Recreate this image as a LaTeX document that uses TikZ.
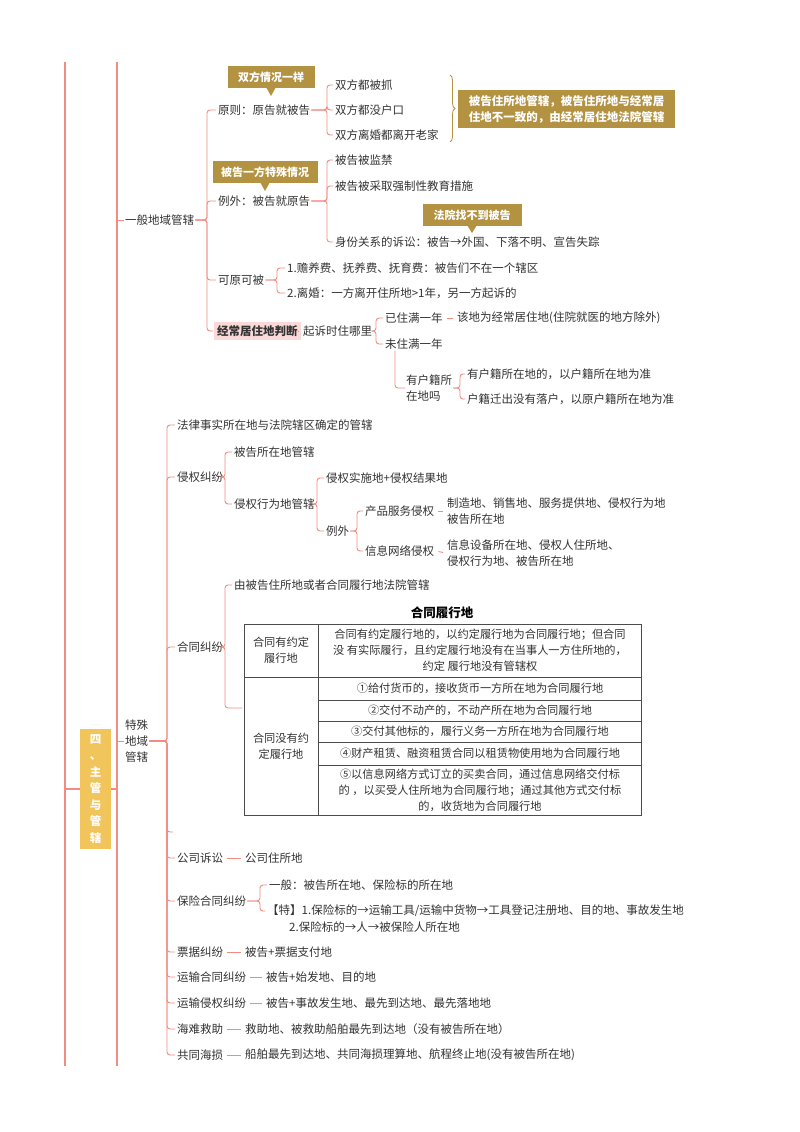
\documentclass[tikz,border=0pt]{standalone}
\usepackage{fontspec}
\setmainfont{Noto Sans CJK SC}
\usetikzlibrary{decorations.pathreplacing}
\definecolor{ln}{HTML}{F28C82}
\definecolor{gold}{HTML}{B39342}
\definecolor{pinkbg}{HTML}{FBD9D9}
\definecolor{rootc}{HTML}{F2C55C}
\definecolor{txt}{HTML}{333333}
\newcommand\br[3]{\draw[conn,rounded corners=3pt,shorten >=1pt] (#1.east) -- (#1.east -| #3) |- (#2.west);}
\newcommand\dsh[2]{\draw[conn,shorten <=3pt,shorten >=3pt] (#1.east) -- (#2.west);}
\begin{document}
\begin{tikzpicture}[x=1pt,y=-1pt,
  every node/.style={font=\fontsize{11.5}{15}\selectfont,text=txt},
  t/.style={anchor=west,inner sep=1pt},
  conn/.style={draw=ln,line width=0.9pt},
  call/.style={fill=gold,text=white,font=\fontsize{11}{14}\selectfont\bfseries,inner sep=0pt,minimum height=22pt},
  cell/.style={font=\fontsize{11.2}{16}\selectfont,align=center,inner sep=0pt}]
\useasboundingbox (0,0) rectangle (800,1132);
\fill[white] (0,0) rectangle (800,1132);
% coordinates of vertical lines
\foreach \n/\v in {x117/117,x167/167,x207/207,x327/327,x277/277,x376/376,x460/460,x225/225,x317/317,x357/357,x260/260}{\coordinate (\n) at (\v,0);}
% thick left lines
\draw[ln,line width=1.6pt] (65,62) -- (65,1066);
\draw[ln,line width=1.6pt] (117,62) -- (117,1066);
\draw[ln,line width=1.6pt] (65,789) -- (80,789);
\draw[ln,line width=1.2pt] (111,789) -- (117,789);
\node[fill=rootc,minimum width=31pt,minimum height=120pt,inner sep=0pt,align=center,text=white,font=\fontsize{11.5}{16.5}\selectfont\bfseries] (root) at (95.5,789) {四\\、\\主\\管\\与\\管\\辖};
% level 1
\node[t] (yb) at (124,220) {一般地域管辖};
\node[t,align=center,font=\fontsize{11.5}{16}\selectfont] (ts) at (124,741) {特殊\\地域\\管辖};
\draw[conn] (x117 |- yb.west) -- (yb.west);
\draw[conn] (x117 |- ts.west) -- (ts.west);
% general
\node[t] (yz) at (217,110) {原则：原告就被告};
\node[t] (lw) at (217,201) {例外：被告就原告};
\node[t] (ky) at (217,280) {可原可被};
\node[t,fill=pinkbg,inner sep=3pt,font=\fontsize{11.5}{15}\selectfont\bfseries] (jc) at (214,331) {经常居住地判断};
\foreach \c in {yz,lw,ky,jc}{\br{yb}{\c}{x207}}
\node[call,minimum width=87pt] (cb1) at (271,77) {双方情况一样};
\fill[gold] (266,87) -- (276,87) -- (271,96) -- cycle;
\node[call,minimum width=105pt] (cb2) at (265,172) {被告一方特殊情况};
\fill[gold] (260,182) -- (270,182) -- (265,191) -- cycle;
\node[call,minimum width=99pt] (cb3) at (472,215) {法院找不到被告};
\fill[gold] (467,225) -- (477,225) -- (472,233) -- cycle;
\node[t] (a1) at (334,85) {双方都被抓};
\node[t] (a2) at (334,110) {双方都没户口};
\node[t] (a3) at (334,135) {双方离婚都离开老家};
\foreach \c in {a1,a2,a3}{\br{yz}{\c}{x327}}
\draw[gold,line width=0.8pt,decorate,decoration={brace,amplitude=5pt}] (450,75) -- (450,142);
\node[fill=gold,text=white,minimum width=217pt,minimum height=38pt,inner sep=0pt,align=center,font=\fontsize{11.5}{16}\selectfont\bfseries] (gbox) at (566.5,109) {被告住所地管辖，被告住所地与经常居\\住地不一致的，由经常居住地法院管辖};
\node[t] (b1) at (334,160) {被告被监禁};
\node[t] (b2) at (334,186) {被告被采取强制性教育措施};
\node[t] (b3) at (334,242) {身份关系的诉讼：被告→外国、下落不明、宣告失踪};
\foreach \c in {b1,b2,b3}{\br{lw}{\c}{x327}}
\node[t] (c1) at (286,268) {1.赡养费、抚养费、抚育费：被告们不在一个辖区};
\node[t] (c2) at (286,293) {2.离婚：一方离开住所地>1年，另一方起诉的};
\foreach \c in {c1,c2}{\br{ky}{\c}{x277}}
\node[t] (qs) at (302,331) {起诉时住哪里};
\dsh{jc}{qs}
\node[t] (d1) at (384,318) {已住满一年};
\node[t] (d2) at (384,344) {未住满一年};
\foreach \c in {d1,d2}{\br{qs}{\c}{x376}}
\node[t] (e1) at (456,318) {该地为经常居住地(住院就医的地方除外)};
\dsh{d1}{e1}
\node[t,align=left,font=\fontsize{11.5}{16}\selectfont] (hj) at (405,388) {有户籍所\\在地吗};
\draw[conn,rounded corners=3pt] ([xshift=11pt]d2.south west) |- (hj.west);
\node[t] (f1) at (466,374) {有户籍所在地的，以户籍所在地为准};
\node[t] (f2) at (466,399) {户籍迁出没有落户，以原户籍所在地为准};
\foreach \c in {f1,f2}{\br{hj}{\c}{x460}}
% special
\node[t] (g1) at (176,425) {法律事实所在地与法院辖区确定的管辖};
\node[t] (g2) at (176,477) {侵权纠纷};
\node[t] (g3) at (176,647) {合同纠纷};
\coordinate (gb) at (173,832);
\node[t] (g4) at (176,858) {公司诉讼};
\node[t] (g5) at (176,901) {保险合同纠纷};
\node[t] (g6) at (176,952) {票据纠纷};
\node[t] (g7) at (176,977) {运输合同纠纷};
\node[t] (g8) at (176,1003) {运输侵权纠纷};
\node[t] (g9) at (176,1029) {海难救助};
\node[t] (g10) at (176,1055) {共同海损};
\foreach \c in {g1,g2,g3,g4,g5,g6,g7,g8,g9,g10}{\br{ts}{\c}{x167}}
\draw[conn,rounded corners=3pt] (ts.east) -- (ts.east -| x167) |- (gb);
\node[t] (h1) at (233,452) {被告所在地管辖};
\node[t] (h2) at (233,504) {侵权行为地管辖};
\foreach \c in {h1,h2}{\br{g2}{\c}{x225}}
\node[t] (i1) at (325,478) {侵权实施地+侵权结果地};
\node[t] (i2) at (325,531) {例外};
\foreach \c in {i1,i2}{\br{h2}{\c}{x317}}
\node[t] (j1) at (364,511) {产品服务侵权};
\node[t] (j2) at (364,551) {信息网络侵权};
\foreach \c in {j1,j2}{\br{i2}{\c}{x357}}
\node[t,align=left,font=\fontsize{11.5}{15.5}\selectfont] (k1) at (446,511) {制造地、销售地、服务提供地、侵权行为地\\被告所在地};
\node[t,align=left,font=\fontsize{11.5}{15.5}\selectfont] (k2) at (446,553) {信息设备所在地、侵权人住所地、\\侵权行为地、被告所在地};
\dsh{j1}{k1}
\dsh{j2}{k2}
\node[t] (l1) at (233,585) {由被告住所地或者合同履行地法院管辖};
\coordinate (tb) at (242,708);
\br{g3}{l1}{x225}
\draw[conn,rounded corners=3pt] (g3.east) -- (g3.east -| x225) |- (tb);
% table
\node[font=\fontsize{12.5}{15}\selectfont\bfseries,text=black] (tt) at (442,613) {合同履行地};
\draw[black!70,line width=0.6pt] (244,624) rectangle (641,815);
\draw[black!70,line width=0.6pt] (318,624) -- (318,815) (244,677) -- (641,677);
\foreach \yy in {700,721,742,765}{\draw[black!70,line width=0.6pt] (318,\yy) -- (641,\yy);}
\node[cell] (r1a) at (281,650) {合同有约定\\履行地};
\node[cell] (r1b) at (480,650) {合同有约定履行地的，以约定履行地为合同履行地；但合同\\没 有实际履行，且约定履行地没有在当事人一方住所地的，\\约定 履行地没有管辖权};
\node[cell] (r2a) at (281,746) {合同没有约\\定履行地};
\node[cell] (s1) at (480,688.5) {①给付货币的，接收货币一方所在地为合同履行地};
\node[cell] (s2) at (480,710.5) {②交付不动产的，不动产所在地为合同履行地};
\node[cell] (s3) at (480,731.5) {③交付其他标的，履行义务一方所在地为合同履行地};
\node[cell] (s4) at (480,753.5) {④财产租赁、融资租赁合同以租赁物使用地为合同履行地};
\node[cell] (s5) at (480,790) {⑤以信息网络方式订立的买卖合同，通过信息网络交付标\\的 ，以买受人住所地为合同履行地；通过其他方式交付标\\的，收货地为合同履行地};
% bottom
\node[t] (n4) at (244,858) {公司住所地};
\dsh{g4}{n4}
\node[t] (m1) at (268,885) {一般：被告所在地、保险标的所在地};
\node[t] (m2) at (266,911) {【特】1.保险标的→运输工具/运输中货物→工具登记注册地、目的地、事故发生地};
\node[t] (m3) at (288,927) {2.保险标的→人→被保险人所在地};
\foreach \c in {m1,m2}{\br{g5}{\c}{x260}}
\node[t] (n6) at (244,952) {被告+票据支付地};
\node[t] (n7) at (265,977) {被告+始发地、目的地};
\node[t] (n8) at (265,1003) {被告+事故发生地、最先到达地、最先落地地};
\node[t] (n9) at (244,1029) {救助地、被救助船舶最先到达地（没有被告所在地）};
\node[t] (n10) at (244,1055) {船舶最先到达地、共同海损理算地、航程终止地(没有被告所在地)};
\dsh{g6}{n6}\dsh{g7}{n7}\dsh{g8}{n8}\dsh{g9}{n9}\dsh{g10}{n10}
\end{tikzpicture}
\end{document}
